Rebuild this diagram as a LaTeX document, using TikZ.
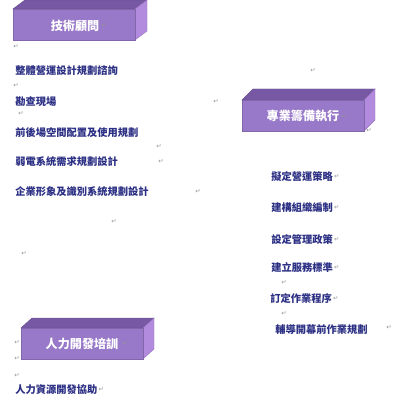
\documentclass[tikz,border=0pt]{standalone}
\usepackage{fontspec}
\newfontfamily\cjk{Noto Sans CJK TC}
\newfontfamily\sym{DejaVu Sans}
\definecolor{txtblue}{RGB}{44,48,132}
\definecolor{frontc}{RGB}{152,120,200}
\definecolor{topc}{RGB}{118,88,164}
\definecolor{sidec}{RGB}{178,138,222}
\definecolor{markc}{RGB}{150,150,150}
\tikzset{
  item/.style={anchor=west,inner sep=0pt,text=txtblue,font=\cjk\bfseries\fontsize{7.3}{8}\selectfont},
  boxlabel/.style={inner sep=0pt,text=white,font=\cjk\bfseries\fontsize{8.6}{9}\selectfont},
  pmark/.style={anchor=west,inner sep=0pt,text=markc,font=\sym\fontsize{4.5}{5}\selectfont},
  frontface/.style={fill=frontc,draw=frontc!85!black,line width=0.3pt},
  topface/.style={fill=topc,draw=topc!85!black,line width=0.3pt},
  sideface/.style={fill=sidec,draw=sidec!85!black,line width=0.3pt}
}
\newcommand{\mybox}[6]{% x1 y1 x2 y2 dx dy
  \fill[topface] (#1,#2) -- (#3,#2) -- ++(#5,-#6) -- (#1+#5,#2-#6) -- cycle;
  \fill[sideface] (#3,#2) -- ++(#5,-#6) -- (#3+#5,#4-#6) -- (#3,#4) -- cycle;
  \fill[frontface] (#1,#2) rectangle (#3,#4);
}
\begin{document}
\begin{tikzpicture}[x=0.025cm,y=-0.025cm]
\useasboundingbox[fill=white] (0,0) rectangle (400,400);
% boxes
\mybox{13}{9}{135}{40}{12}{9}
\mybox{242}{100}{364}{131}{11}{11}
\mybox{21}{328}{143}{359}{11}{10}
\node[boxlabel] (b1) at (75,26) {技術顧問};
\node[boxlabel] (b2) at (303,116) {專業籌備執行};
\node[boxlabel] (b3) at (82,344) {人力開發培訓};
% left column
\node[item] (l1) at (15,71) {整體營運設計規劃諮詢};
\node[item] (l2) at (15,102) {勘查現場};
\node[item] (l3) at (15,133) {前後場空間配置及使用規劃};
\node[item] (l4) at (15,162) {弱電系統需求規劃設計};
\node[item] (l5) at (15,192) {企業形象及識別系統規劃設計};
% right column
\node[item] (r1) at (271,177) {擬定營運策略};
\node[item] (r2) at (271,208) {建構組織編制};
\node[item] (r3) at (271,240) {設定管理政策};
\node[item] (r4) at (271,268) {建立服務標準};
\node[item] (r5) at (270,299) {訂定作業程序};
\node[item] (r6) at (275,330) {輔導開幕前作業規劃};
% bottom
\node[item] (h1) at (15,390) {人力資源開發協助};
% paragraph marks
\node[pmark] (m1) at (13,47) {↵};
\node[pmark] (m2) at (13,86) {↵};
\node[pmark] (m3) at (18,114) {↵};
\node[pmark] (m4) at (156,147) {↵};
\node[pmark] (m5) at (158,162) {↵};
\node[pmark] (m6) at (195,192) {↵};
\node[pmark] (m7) at (111,222) {↵};
\node[pmark] (m8) at (21,254) {↵};
\node[pmark] (m9) at (310,71) {↵};
\node[pmark] (m10) at (213,102) {↵};
\node[pmark] (m11) at (366,131) {↵};
\node[pmark] (m12) at (341,117) {↵};
\node[pmark] (m13) at (101,26) {↵};
\node[pmark] (m14) at (122,344) {↵};
\node[pmark] (m15) at ([xshift=0.5pt]r1.east) {↵};
\node[pmark] (m16) at ([xshift=0.5pt]r2.east) {↵};
\node[pmark] (m17) at ([xshift=0.5pt]r3.east) {↵};
\node[pmark] (m18) at ([xshift=0.5pt]r4.east) {↵};
\node[pmark] (m19) at ([xshift=0.5pt]r5.east) {↵};
\node[pmark] (m20) at (281,283) {↵};
\node[pmark] (m21) at (281,314) {↵};
\node[pmark] (m22) at (386,328) {↵};
\node[pmark] (m23) at (14,343) {↵};
\node[pmark] (m24) at (14,359) {↵};
\node[pmark] (m25) at (14,376) {↵};
\node[pmark] (m26) at ([xshift=0.5pt]h1.east) {↵};
\end{tikzpicture}
\end{document}
